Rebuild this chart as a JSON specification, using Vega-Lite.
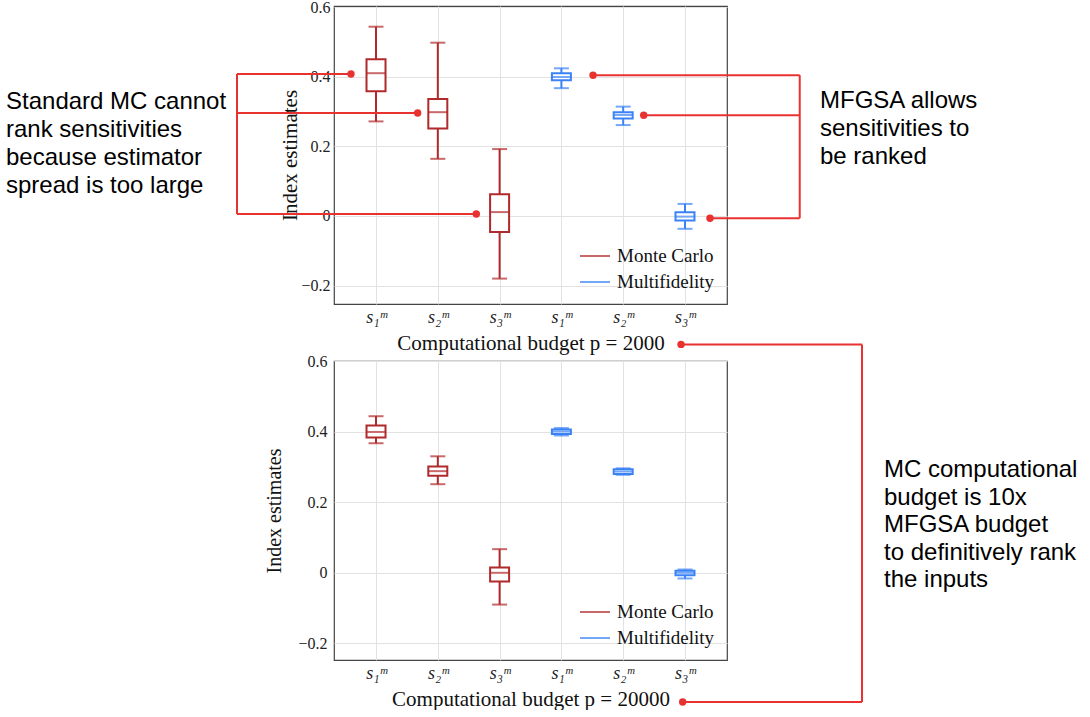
{
  "$schema": "https://vega.github.io/schema/vega-lite/v6.json",
  "padding": {"left": 5, "top": -2, "right": 0, "bottom": 0},
  "bounds": "flush",
  "spacing": 57,
  "resolve": {"legend": {"color": "independent"}},
  "vconcat": [
    {
      "width": 393,
      "height": 298,
      "layer": [
        {
          "data": {"values": [
            {"pos": 1, "method": "Monte Carlo", "lower": 0.2715, "q1": 0.358, "median": 0.410, "q3": 0.450, "upper": 0.5435},
            {"pos": 2, "method": "Monte Carlo", "lower": 0.164, "q1": 0.251, "median": 0.298, "q3": 0.336, "upper": 0.4976},
            {"pos": 3, "method": "Monte Carlo", "lower": -0.180, "q1": -0.046, "median": 0.011, "q3": 0.062, "upper": 0.192},
            {"pos": 4, "method": "Multifidelity", "lower": 0.367, "q1": 0.390, "median": 0.399, "q3": 0.410, "upper": 0.424},
            {"pos": 5, "method": "Multifidelity", "lower": 0.261, "q1": 0.280, "median": 0.290, "q3": 0.298, "upper": 0.314},
            {"pos": 6, "method": "Multifidelity", "lower": -0.037, "q1": -0.0135, "median": -0.002, "q3": 0.0106, "upper": 0.0345}
          ]},
          "layer": [
            {
              "mark": {"type": "rule", "strokeWidth": 2},
              "encoding": {
                "x": {"field": "pos", "type": "quantitative", "scale": {"domain": [0.32, 6.68], "nice": false, "zero": false, "padding": 0},
                      "axis": {"values": [1, 2, 3, 4, 5, 6], "title": "Computational budget p = 2000"}},
                "y": {"field": "lower", "type": "quantitative", "scale": {"domain": [-0.253, 0.603], "nice": false, "zero": false, "padding": 0},
                      "axis": {"values": [-0.2, 0, 0.2, 0.4, 0.6], "format": "~g", "title": "Index estimates", "titlePadding": 0, "labelPadding": 4, "titleFontSize": 21}},
                "y2": {"field": "upper"},
                "color": {"field": "method", "type": "nominal",
                          "scale": {"domain": ["Monte Carlo", "Multifidelity"], "range": ["#b0292b", "#3b82f6"]},
                          "legend": {"orient": "bottom-right", "title": null, "symbolType": "stroke", "symbolSize": 900, "symbolStrokeWidth": 2,
                                     "labelFont": "Liberation Serif", "labelFontSize": 19, "labelColor": "#111", "labelOffset": 6, "rowPadding": -6, "offset": 12, "padding": 0}}
              }
            },
            {
              "mark": {"type": "bar", "fill": "white", "strokeWidth": 2, "width": 19},
              "encoding": {
                "x": {"field": "pos", "type": "quantitative"},
                "y": {"field": "q1", "type": "quantitative"},
                "y2": {"field": "q3"},
                "stroke": {"field": "method", "type": "nominal", "scale": {"domain": ["Monte Carlo", "Multifidelity"], "range": ["#b0292b", "#3b82f6"]}, "legend": null}
              }
            },
            {
              "mark": {"type": "tick", "orient": "horizontal", "size": 19, "thickness": 2},
              "encoding": {
                "x": {"field": "pos", "type": "quantitative"},
                "y": {"field": "median", "type": "quantitative"},
                "color": {"field": "method", "type": "nominal"}
              }
            },
            {
              "mark": {"type": "tick", "orient": "horizontal", "size": 15, "thickness": 2},
              "encoding": {
                "x": {"field": "pos", "type": "quantitative"},
                "y": {"field": "lower", "type": "quantitative"},
                "color": {"field": "method", "type": "nominal"}
              }
            },
            {
              "mark": {"type": "tick", "orient": "horizontal", "size": 15, "thickness": 2},
              "encoding": {
                "x": {"field": "pos", "type": "quantitative"},
                "y": {"field": "upper", "type": "quantitative"},
                "color": {"field": "method", "type": "nominal"}
              }
            }
          ]
        },
        {
          "data": {"values": [
            {"x": -1.25, "x2": -1.25, "y": 0.4077, "y2": 0.0057},
            {"x": -1.25, "x2": 0.595, "y": 0.4077, "y2": 0.4077},
            {"x": -1.25, "x2": 1.674, "y": 0.2957, "y2": 0.2957},
            {"x": -1.25, "x2": 2.623, "y": 0.0057, "y2": 0.0057},
            {"x": 7.857, "x2": 7.857, "y": 0.4043, "y2": -0.0067},
            {"x": 4.512, "x2": 7.857, "y": 0.4043, "y2": 0.4043},
            {"x": 5.332, "x2": 7.857, "y": 0.289, "y2": 0.289},
            {"x": 6.405, "x2": 7.857, "y": -0.0067, "y2": -0.0067}
          ]},
          "mark": {"type": "rule", "color": "#e8322f", "strokeWidth": 2},
          "encoding": {
            "x": {"field": "x", "type": "quantitative"},
            "x2": {"field": "x2"},
            "y": {"field": "y", "type": "quantitative"},
            "y2": {"field": "y2"}
          }
        },
        {
          "data": {"values": [
            {"x": 0.595, "y": 0.4077},
            {"x": 1.674, "y": 0.2957},
            {"x": 2.623, "y": 0.0057},
            {"x": 4.512, "y": 0.4043},
            {"x": 5.332, "y": 0.289},
            {"x": 6.405, "y": -0.0067}
          ]},
          "mark": {"type": "circle", "size": 55, "opacity": 1, "color": "#e8322f"},
          "encoding": {
            "x": {"field": "x", "type": "quantitative"},
            "y": {"field": "y", "type": "quantitative"}
          }
        },
        {
          "data": {"values": [
            {"x": -4.988, "y": 0.3072, "label": "Standard MC cannot\nrank sensitivities\nbecause estimator\nspread is too large"},
            {"x": 8.185, "y": 0.310, "label": "MFGSA allows\nsensitivities to\nbe ranked"}
          ]},
          "mark": {"type": "text", "align": "left", "baseline": "alphabetic", "font": "Liberation Sans", "fontSize": 24, "lineHeight": 28, "lineBreak": "\n", "color": "#000000"},
          "encoding": {
            "x": {"field": "x", "type": "quantitative"},
            "y": {"field": "y", "type": "quantitative"},
            "text": {"field": "label", "type": "nominal"}
          }
        }
      ]
    },
    {
      "width": 393,
      "height": 299,
      "layer": [
        {
          "data": {"values": [
            {"pos": 1, "method": "Monte Carlo", "lower": 0.367, "q1": 0.383, "median": 0.399, "q3": 0.417, "upper": 0.4436},
            {"pos": 2, "method": "Monte Carlo", "lower": 0.251, "q1": 0.275, "median": 0.288, "q3": 0.301, "upper": 0.330},
            {"pos": 3, "method": "Monte Carlo", "lower": -0.090, "q1": -0.0246, "median": 0.0, "q3": 0.015, "upper": 0.067},
            {"pos": 4, "method": "Multifidelity", "lower": 0.389, "q1": 0.393, "median": 0.400, "q3": 0.406, "upper": 0.410},
            {"pos": 5, "method": "Multifidelity", "lower": 0.2776, "q1": 0.280, "median": 0.287, "q3": 0.2935, "upper": 0.296},
            {"pos": 6, "method": "Multifidelity", "lower": -0.016, "q1": -0.0068, "median": 0.0, "q3": 0.0055, "upper": 0.0093}
          ]},
          "layer": [
            {
              "mark": {"type": "rule", "strokeWidth": 2},
              "encoding": {
                "x": {"field": "pos", "type": "quantitative", "scale": {"domain": [0.32, 6.68], "nice": false, "zero": false, "padding": 0},
                      "axis": {"values": [1, 2, 3, 4, 5, 6], "title": "Computational budget p = 20000"}},
                "y": {"field": "lower", "type": "quantitative", "scale": {"domain": [-0.247, 0.6], "nice": false, "zero": false, "padding": 0},
                      "axis": {"values": [-0.2, 0, 0.2, 0.4, 0.6], "format": "~g", "title": "Index estimates", "titlePadding": 13, "labelPadding": 7, "titleFontSize": 20}},
                "y2": {"field": "upper"},
                "color": {"field": "method", "type": "nominal",
                          "scale": {"domain": ["Monte Carlo", "Multifidelity"], "range": ["#b0292b", "#3b82f6"]},
                          "legend": {"orient": "bottom-right", "title": null, "symbolType": "stroke", "symbolSize": 900, "symbolStrokeWidth": 2,
                                     "labelFont": "Liberation Serif", "labelFontSize": 19, "labelColor": "#111", "labelOffset": 6, "rowPadding": -6, "offset": 12, "padding": 0}}
              }
            },
            {
              "mark": {"type": "bar", "fill": "white", "strokeWidth": 2, "width": 19},
              "encoding": {
                "x": {"field": "pos", "type": "quantitative"},
                "y": {"field": "q1", "type": "quantitative"},
                "y2": {"field": "q3"},
                "stroke": {"field": "method", "type": "nominal", "scale": {"domain": ["Monte Carlo", "Multifidelity"], "range": ["#b0292b", "#3b82f6"]}, "legend": null}
              }
            },
            {
              "mark": {"type": "tick", "orient": "horizontal", "size": 19, "thickness": 2},
              "encoding": {
                "x": {"field": "pos", "type": "quantitative"},
                "y": {"field": "median", "type": "quantitative"},
                "color": {"field": "method", "type": "nominal"}
              }
            },
            {
              "mark": {"type": "tick", "orient": "horizontal", "size": 15, "thickness": 2},
              "encoding": {
                "x": {"field": "pos", "type": "quantitative"},
                "y": {"field": "lower", "type": "quantitative"},
                "color": {"field": "method", "type": "nominal"}
              }
            },
            {
              "mark": {"type": "tick", "orient": "horizontal", "size": 15, "thickness": 2},
              "encoding": {
                "x": {"field": "pos", "type": "quantitative"},
                "y": {"field": "upper", "type": "quantitative"},
                "color": {"field": "method", "type": "nominal"}
              }
            }
          ]
        },
        {
          "data": {"values": [
            {"x": 5.936, "x2": 8.865, "y": 0.647, "y2": 0.647},
            {"x": 8.865, "x2": 8.865, "y": 0.647, "y2": -0.366},
            {"x": 5.963, "x2": 8.865, "y": -0.366, "y2": -0.366}
          ]},
          "mark": {"type": "rule", "color": "#e8322f", "strokeWidth": 2},
          "encoding": {
            "x": {"field": "x", "type": "quantitative"},
            "x2": {"field": "x2"},
            "y": {"field": "y", "type": "quantitative"},
            "y2": {"field": "y2"}
          }
        },
        {
          "data": {"values": [
            {"x": 5.936, "y": 0.647},
            {"x": 5.963, "y": -0.366}
          ]},
          "mark": {"type": "circle", "size": 55, "opacity": 1, "color": "#e8322f"},
          "encoding": {
            "x": {"field": "x", "type": "quantitative"},
            "y": {"field": "y", "type": "quantitative"}
          }
        },
        {
          "data": {"values": [
            {"x": 9.221, "y": 0.270, "label": "MC computational\nbudget is 10x\nMFGSA budget\nto definitively rank\nthe inputs"}
          ]},
          "mark": {"type": "text", "align": "left", "baseline": "alphabetic", "font": "Liberation Sans", "fontSize": 24, "lineHeight": 27.5, "lineBreak": "\n", "color": "#000000"},
          "encoding": {
            "x": {"field": "x", "type": "quantitative"},
            "y": {"field": "y", "type": "quantitative"},
            "text": {"field": "label", "type": "nominal"}
          }
        }
      ]
    }
  ],
  "config": {
    "background": "white",
    "font": "Liberation Serif",
    "view": {"stroke": "#444444", "strokeWidth": 1.2},
    "axis": {
      "ticks": false,
      "domain": false,
      "grid": true,
      "gridColor": "#e2e2e2",
      "gridWidth": 1,
      "labelFont": "Liberation Serif",
      "labelFontSize": 16,
      "labelColor": "#222222",
      "titleFont": "Liberation Serif",
      "titleFontSize": 21,
      "titleFontWeight": "normal",
      "titleColor": "#111111"
    },
    "axisX": {
      "labelFontSize": 18,
      "labelFontStyle": "italic",
      "labelPadding": 4,
      "titlePadding": 6,
      "labelExpr": "datum.value == 1 || datum.value == 4 ? 's₁ᵐ' : (datum.value == 2 || datum.value == 5 ? 's₂ᵐ' : 's₃ᵐ')"
    },
    "axisY": {"labelPadding": 4}
  }
}
